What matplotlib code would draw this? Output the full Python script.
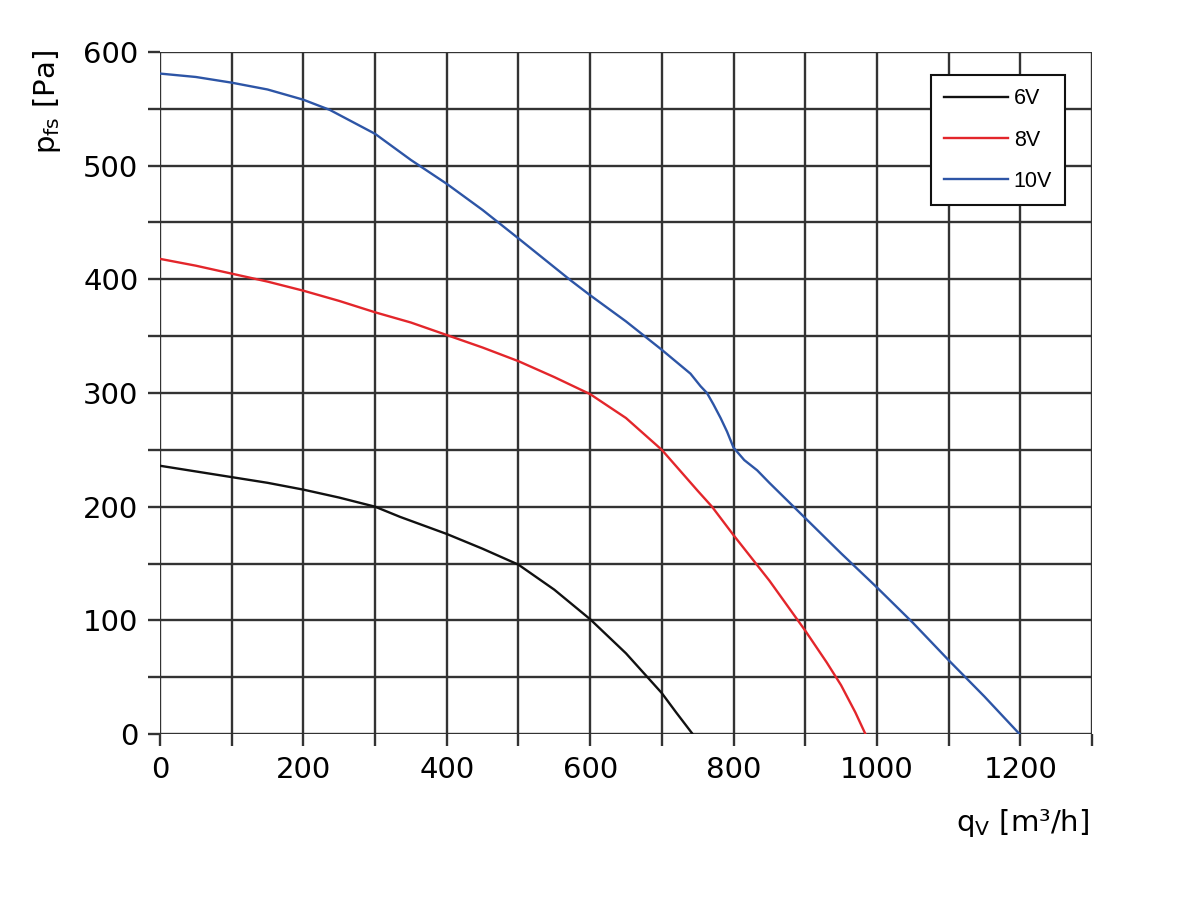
import matplotlib.pyplot as plt
import numpy as np

# fan curves: flow q_V [m3/h] vs static pressure p_fs [Pa]
q_6v = [0, 50, 100, 150, 200, 250, 300, 335, 400, 450, 500, 550, 600, 650,
        700, 720, 743]
p_6v = [236, 231, 226, 221, 215, 208, 200, 191, 176, 163, 149, 127, 101, 71,
        36, 19, 0]

q_8v = [0, 50, 100, 150, 200, 250, 300, 350, 400, 450, 500, 550, 600, 650,
        700, 750, 770, 800, 850, 900, 930, 950, 970, 984]
p_8v = [418, 412, 405, 398, 390, 381, 371, 362, 351, 340, 328, 314, 299, 278,
        250, 214, 200, 175, 135, 91, 63, 43, 19, 0]

q_10v = [0, 50, 100, 150, 200, 237, 300, 350, 400, 450, 500, 573, 600, 650,
         700, 740, 754, 763, 772, 782, 791, 800, 815, 833, 850, 900, 950, 1000,
         1050, 1100, 1150, 1199]
p_10v = [581, 578, 573, 567, 558, 549, 528, 505, 484, 461, 436, 399, 386, 363,
         338, 317, 306, 300, 290, 278, 266, 252, 241, 232, 221, 190, 159, 129,
         98, 65, 33, 0]

series = [("6V", q_6v, p_6v, "#111111"),
          ("8V", q_8v, p_8v, "#e3262b"),
          ("10V", q_10v, p_10v, "#2d55a6")]

plt.rcParams['font.family'] = ['DejaVu Sans']

fig = plt.figure(figsize=(11.86, 9.07), dpi=100)
ax = fig.add_axes([0.1349, 0.1907, 0.9207 - 0.1349, 0.9427 - 0.1907])

for name, q, p, c in series:
    ax.plot(q, p, color=c, lw=1.7, label=name, zorder=3,
            solid_joinstyle='round')

ax.set_xlim(0, 1300)
ax.set_ylim(0, 600)
ax.set_xticks(np.arange(0, 1201, 200))
ax.set_xticks(np.arange(100, 1301, 200), minor=True)
ax.set_yticks(np.arange(0, 601, 100))
ax.set_yticks(np.arange(50, 600, 100), minor=True)
ax.grid(True, which='both', color='#333333', lw=1.7)
ax.set_axisbelow(True)
for s in ax.spines.values():
    s.set_visible(False)
ax.tick_params(which='both', direction='out', length=8.5, width=1.7,
               color='#333333', labelsize=21, pad=7)

fig.text(0.040, 0.945, r"p$_{\mathrm{fs}}$ [Pa]", rotation=90, fontsize=21,
         ha='center', va='top')
fig.text(0.862, 0.093, r"q$_{\mathrm{V}}$ [m³/h]", fontsize=21,
         ha='center', va='center')

leg = ax.legend(loc='upper right', bbox_to_anchor=(0.971, 0.966),
                borderaxespad=0,
                prop={'family': 'Liberation Sans', 'size': 15.5},
                frameon=True, fancybox=False, edgecolor='#111111',
                handlelength=3.0, labelspacing=0.95, borderpad=0.6,
                handletextpad=0.25)
leg.get_frame().set_linewidth(1.5)
leg.get_frame().set_alpha(1)

fig.savefig("out.png", dpi=100, facecolor='white')
